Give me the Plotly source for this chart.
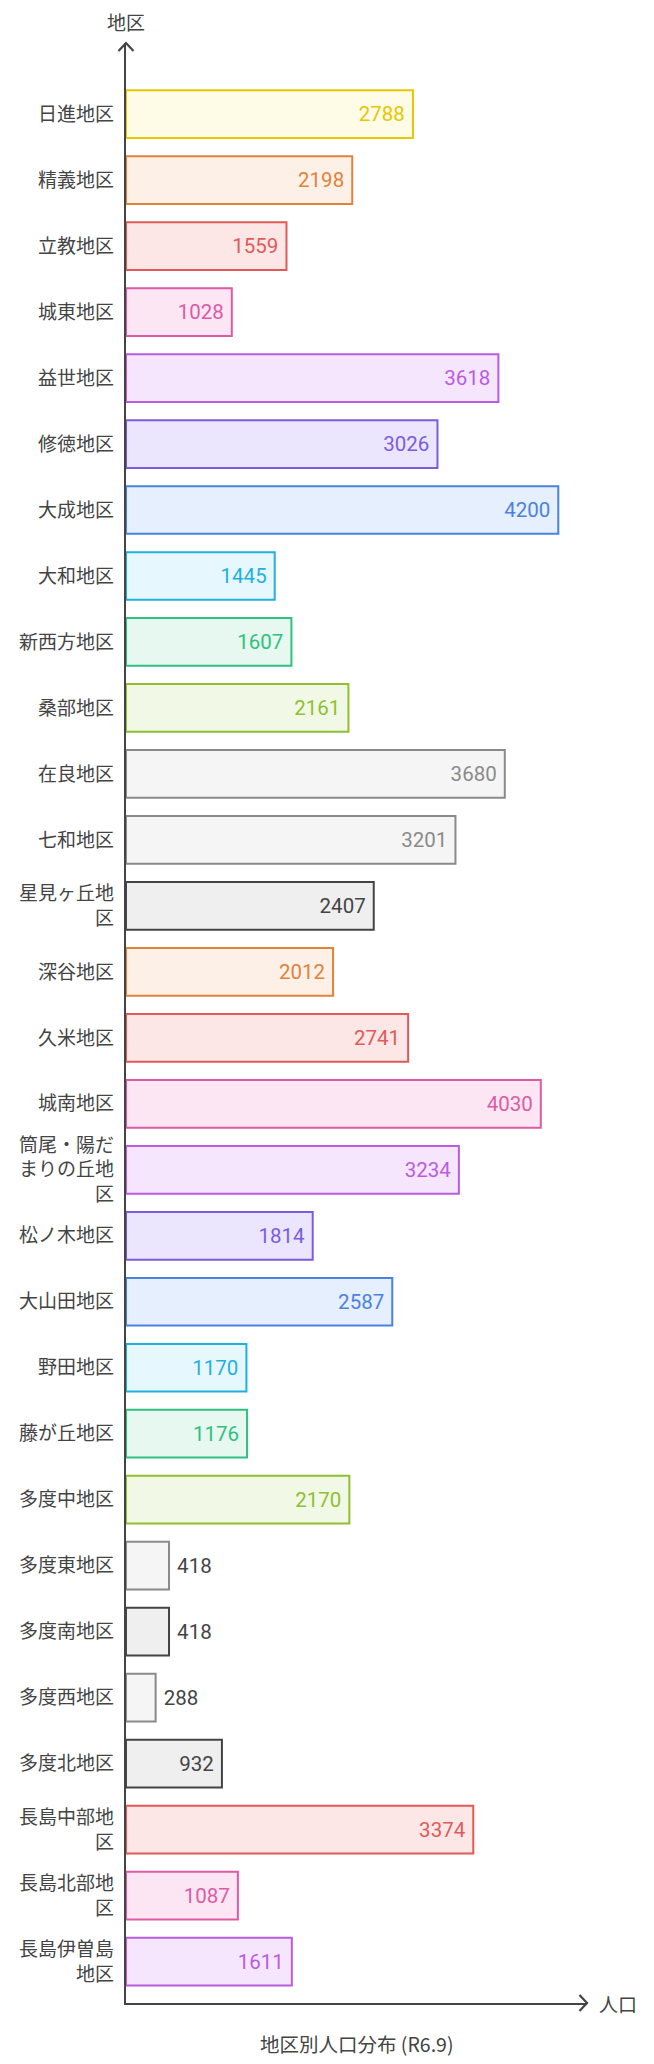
import plotly.graph_objects as go

districts = [
    "日進地区", "精義地区", "立教地区", "城東地区", "益世地区", "修徳地区", "大成地区",
    "大和地区", "新西方地区", "桑部地区", "在良地区", "七和地区", "星見ヶ丘地<br>区",
    "深谷地区", "久米地区", "城南地区", "筒尾・陽だ<br>まりの丘地<br>区", "松ノ木地区",
    "大山田地区", "野田地区", "藤が丘地区", "多度中地区", "多度東地区", "多度南地区",
    "多度西地区", "多度北地区", "長島中部地<br>区", "長島北部地<br>区", "長島伊曽島<br>地区",
]
population = [
    2788, 2198, 1559, 1028, 3618, 3026, 4200,
    1445, 1607, 2161, 3680, 3201, 2407,
    2012, 2741, 4030, 3234, 1814,
    2587, 1170, 1176, 2170, 418, 418,
    288, 932, 3374, 1087, 1611,
]

# palette (style)
YEL = ("#e6c700", "#fefbe6")
ORA = ("#e0823a", "#fdf1e7")
RED = ("#e05a5a", "#fde6e6")
PNK = ("#dd5aa6", "#fce6f3")
PUR = ("#b95ce0", "#f6e6fd")
IND = ("#7a5ce0", "#ebe6fd")
BLU = ("#4a82e0", "#e6effd")
CYA = ("#1fb0e0", "#e6f7fd")
GRN = ("#30c07f", "#e6f8ef")
LIM = ("#8fc030", "#f1f9e6")
GRY = ("#8a8a8a", "#f5f5f5")
DRK = ("#444444", "#efefef")
bar_styles = [
    YEL, ORA, RED, PNK, PUR, IND, BLU, CYA, GRN, LIM, GRY, GRY, DRK,
    ORA, RED, PNK, PUR, IND, BLU, CYA, GRN, LIM, GRY, DRK, GRY, DRK,
    RED, PNK, PUR,
]
line_colors = [s[0] for s in bar_styles]
fill_colors = [s[1] for s in bar_styles]

NB = "\u00a0"
positions = ["outside" if v < 600 else "inside" for v in population]
labels = [(NB + str(v)) if p == "outside" else (str(v) + NB) for v, p in zip(population, positions)]

AX = "#444444"
NUMFONT = "Roboto, 'Noto Sans CJK JP', sans-serif"
JPFONT = "'Noto Sans CJK JP', Roboto, sans-serif"

fig = go.Figure(go.Bar(
    x=population,
    y=districts,
    orientation="h",
    marker=dict(color=fill_colors, line=dict(color=line_colors, width=2)),
    text=labels,
    textposition=positions,
    insidetextanchor="end",
    insidetextfont=dict(color=line_colors, size=20.5, family=NUMFONT),
    outsidetextfont=dict(color=AX, size=20.5, family=NUMFONT),
    constraintext="none",
    cliponaxis=False,
    width=0.723,
    hoverinfo="skip",
))

W, H = 654, 2064
L, R, T, B = 125.7, 586.7, 42.7, 2003.3
band = 66.0
n = len(districts)
y_top = -0.5 - (80.85 - T) / band
y_bot = (n - 0.5) + (B - (80.85 + n * band)) / band
x_max = 4200 * (R - L) / (558 - L)

fig.update_layout(
    width=W, height=H,
    margin=dict(l=L, r=W - R, t=T, b=H - B, pad=0),
    paper_bgcolor="white", plot_bgcolor="white",
    showlegend=False,
    font=dict(family=JPFONT, color=AX),
    xaxis=dict(range=[0, x_max], showgrid=False, zeroline=False, showticklabels=False,
               ticks="", showline=True, linecolor=AX, linewidth=2.2, fixedrange=True),
    yaxis=dict(range=[y_bot, y_top], showgrid=False, zeroline=False, ticks="",
               showline=True, linecolor=AX, linewidth=2.2,
               tickfont=dict(size=19, family=JPFONT, color=AX),
               ticklabelstandoff=6, fixedrange=True),
    shapes=[
        dict(type="path", xref="paper", yref="paper", xsizemode="pixel", ysizemode="pixel",
             xanchor=0, yanchor=1, path="M-7.5,-8 L0,0 L7.5,-8",
             line=dict(color=AX, width=2.2)),
        dict(type="path", xref="paper", yref="paper", xsizemode="pixel", ysizemode="pixel",
             xanchor=1, yanchor=0, path="M-7.5,8 L0,0 L-7.5,-8",
             line=dict(color=AX, width=2.2)),
    ],
    annotations=[
        dict(text="地区", xref="paper", yref="paper", x=0, y=1, xanchor="center", yanchor="bottom",
             yshift=6, showarrow=False, font=dict(size=19, family=JPFONT, color=AX)),
        dict(text="人口", xref="paper", yref="paper", x=1, y=0, xanchor="left", yanchor="middle",
             xshift=10, showarrow=False, font=dict(size=19, family=JPFONT, color=AX)),
        dict(text="地区別人口分布 (R6.9)", xref="paper", yref="paper", x=0.5, y=0,
             xanchor="center", yanchor="top", yshift=-24, showarrow=False,
             font=dict(size=19.5, family=JPFONT, color=AX)),
    ],
)

fig.write_html("out.html")
